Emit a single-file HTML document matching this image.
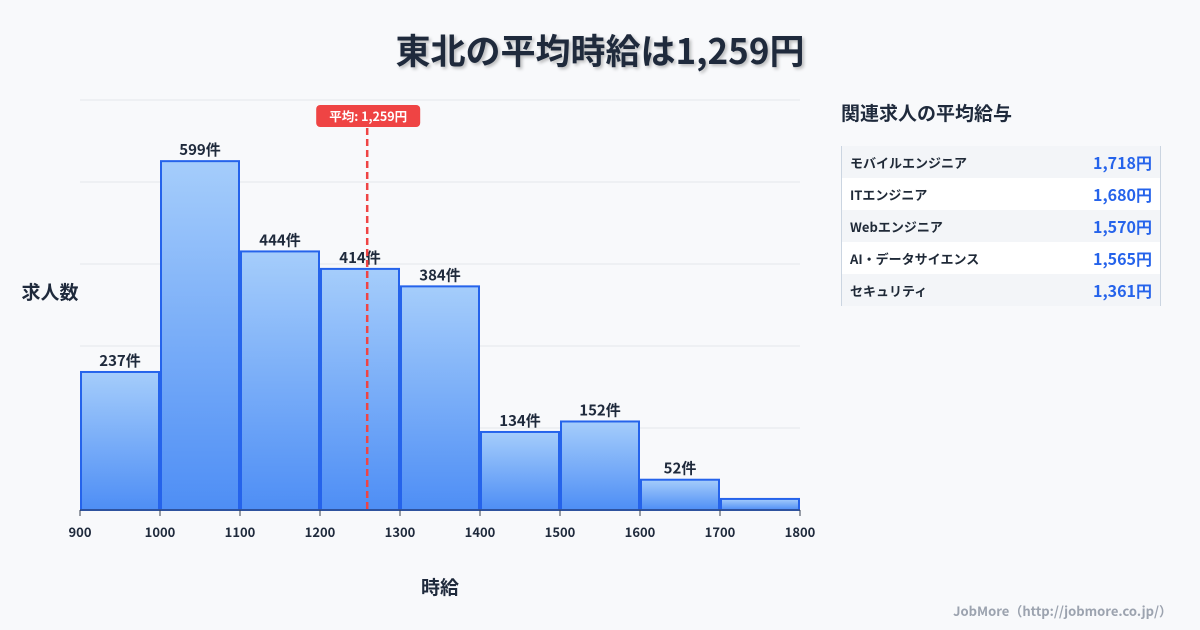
<!DOCTYPE html>
<html><head><meta charset="utf-8">
<style>
body{margin:0;width:1200px;height:630px;background:#f8f9fb;font-family:"Noto Sans CJK JP","Liberation Sans",sans-serif;position:relative;overflow:hidden;color:#1f2937}
#title{position:absolute;top:24px;left:0;width:1200px;text-align:center;font-size:35px;font-weight:bold;color:#1f2a3c;text-shadow:2px 2px 3px rgba(0,0,0,0.25)}
#side-title{position:absolute;left:841px;top:99px;font-size:19px;font-weight:bold;color:#1f2a3c}
#table{position:absolute;left:841px;top:146px;width:318px;border-left:1px solid #cbd5e1;border-right:1px solid #cbd5e1}
.row{height:32px;display:flex;justify-content:space-between;align-items:center;padding:0 8px;font-size:13px;font-weight:bold}
.row:nth-child(odd){background:#f3f5f8}.row:nth-child(even){background:#fff}
.val{color:#2563eb;font-size:16px}
#credit{position:absolute;right:28px;top:601px;font-size:13px;color:#9ca3af;font-weight:bold}
</style></head><body>
<div id="title">東北の平均時給は1,259円</div>
<svg id="chart" width="840" height="630" style="position:absolute;left:0;top:0">
<defs><linearGradient id="g" x1="0" y1="0" x2="0" y2="1"><stop offset="0" stop-color="#a5cdfb"/><stop offset="1" stop-color="#4e8ef5"/></linearGradient></defs>
<g id="grid"></g><g id="bars"></g><g id="ticks"></g>
<text x="50" y="299" text-anchor="middle" font-size="19" font-weight="bold" fill="#1f2a3c">求人数</text>
<text x="440" y="594" text-anchor="middle" font-size="19" font-weight="bold" fill="#1f2a3c">時給</text>
<g id="mean"></g>
</svg>
<div id="side-title">関連求人の平均給与</div>
<div id="table">
<div class="row"><span>モバイルエンジニア</span><span class="val">1,718円</span></div>
<div class="row"><span>ITエンジニア</span><span class="val">1,680円</span></div>
<div class="row"><span>Webエンジニア</span><span class="val">1,570円</span></div>
<div class="row"><span>AI・データサイエンス</span><span class="val">1,565円</span></div>
<div class="row"><span>セキュリティ</span><span class="val">1,361円</span></div>
</div>
<div id="credit">JobMore（http://jobmore.co.jp/）</div>
<script>
const binStarts=[900,1000,1100,1200,1300,1400,1500,1600,1700];
const counts=[237,599,444,414,384,134,152,52,19];
const showLabel=[true,true,true,true,true,true,true,true,false];
const xTicks=[900,1000,1100,1200,1300,1400,1500,1600,1700,1800];
const meanValue=1259;
const NS='http://www.w3.org/2000/svg';
const x=v=>80+(v-900)*0.8;
const yMax=704, y=v=>510-v*410/yMax;
function mk(t,a,p){const e=document.createElementNS(NS,t);for(const k in a)e.setAttribute(k,a[k]);p.appendChild(e);return e;}
const grid=document.getElementById('grid');
for(let i=1;i<=5;i++){const gy=510-i*82;
const l=mk('line',{x1:80,x2:800,y1:gy,y2:gy,stroke:'#e5e7eb','stroke-width':1},grid);
}
const bars=document.getElementById('bars');
binStarts.forEach((b,i)=>{
const r=mk('rect',{x:x(b)+1,y:y(counts[i]),width:x(b+100)-x(b)-2,height:510-y(counts[i]),fill:'url(#g)',stroke:'#2563eb','stroke-width':2},bars);

if(showLabel[i]){const t=mk('text',{x:(x(b)+x(b+100))/2,y:y(counts[i])-6,'text-anchor':'middle','font-size':15,'font-weight':'bold',fill:'#1f2a3c'},bars);t.textContent=counts[i]+'件';
}
});
const ticks=document.getElementById('ticks');
const ax=mk('line',{x1:80,x2:800,y1:510,y2:510,stroke:'#374151','stroke-width':1},ticks);

xTicks.forEach(v=>{mk('line',{x1:x(v),x2:x(v),y1:510,y2:516,stroke:'#374151'},ticks);
const t=mk('text',{x:x(v),y:537,'text-anchor':'middle','font-size':13,'font-weight':'bold',fill:'#1f2a3c'},ticks);t.textContent=v;
});
const mg=document.getElementById('mean');const mx=x(meanValue);
const ml=mk('line',{x1:mx,x2:mx,y1:128,y2:510,stroke:'#ef4444','stroke-width':2.5,'stroke-dasharray':'7,4'},mg);

const mb=mk('rect',{x:mx-51,y:105,width:104,height:22,rx:4,fill:'#ef4444'},mg);

const mt=mk('text',{x:mx+1,y:121,'text-anchor':'middle','font-size':12.5,'font-weight':'bold',fill:'#fff'},mg);mt.textContent='平均: 1,259円';

</script>
</body></html>
